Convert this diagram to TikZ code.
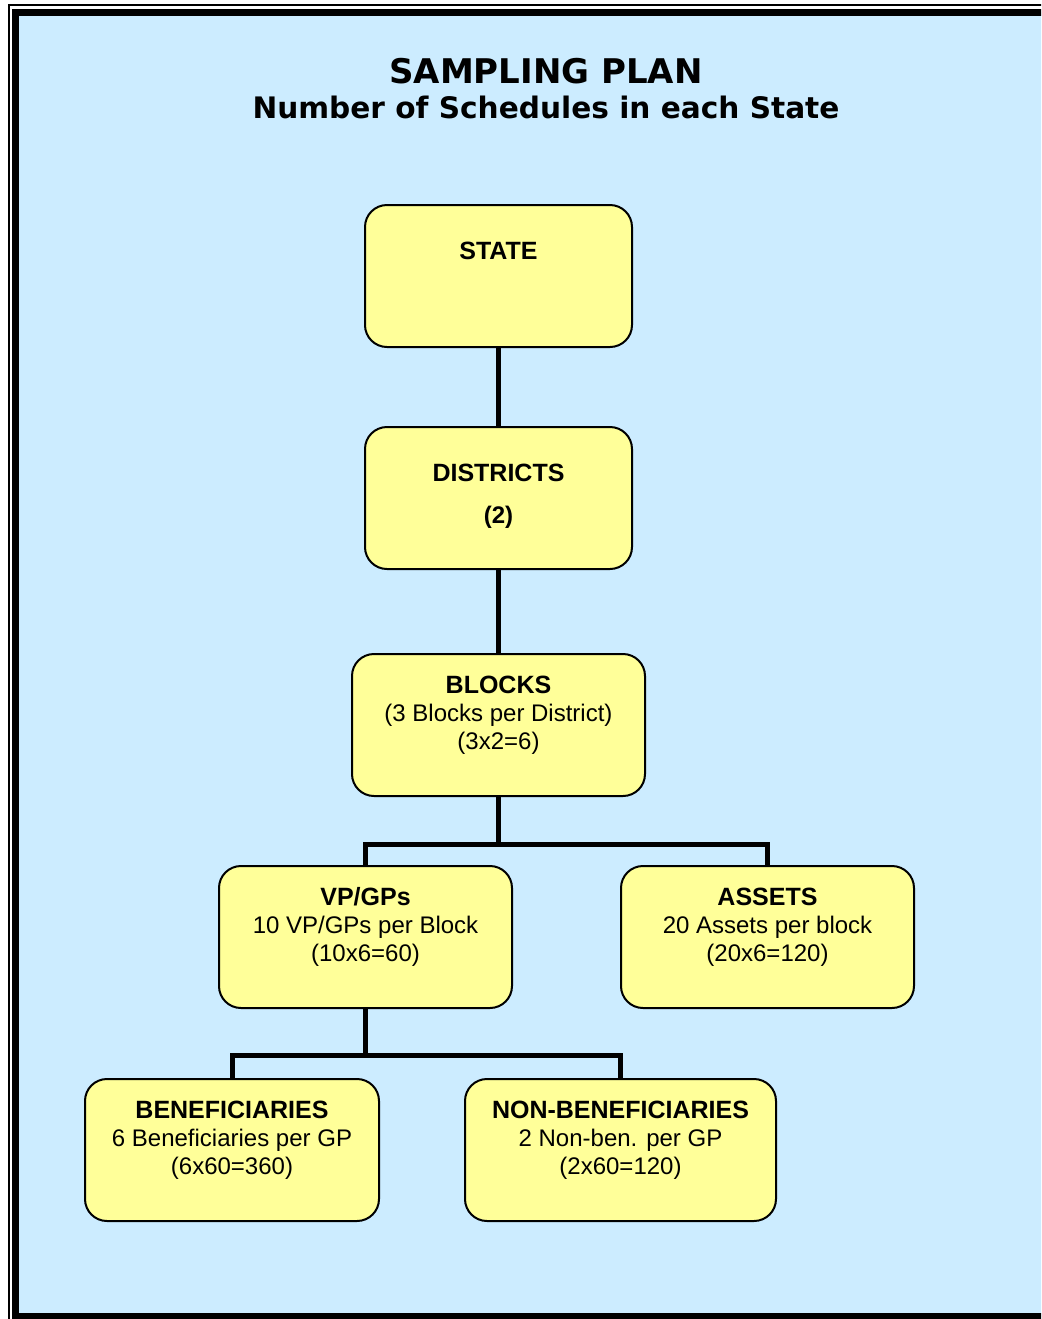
\documentclass[tikz,border=0pt]{standalone}
\usepackage{fontspec}
\setmainfont{Liberation Sans}
\newfontfamily\headfont{DejaVu Sans}
\usepackage{tikz}
\usetikzlibrary{positioning}
\definecolor{skyback}{RGB}{204,236,255}
\definecolor{boxyellow}{RGB}{255,255,153}
\newcommand{\boxlines}[2][10pt]{\vbox to 71pt{\vskip#1\hbox{\begin{tabular}[t]{@{}c@{}}#2\end{tabular}}\vss}}
\newcommand{\levelname}[1]{{\bfseries\fontsize{12.5}{14}\selectfont #1}}
\tikzset{
    level/.style={
           rectangle,
           rounded corners=11pt,
           draw=black,
           line width=1pt,
           fill=boxyellow,
           inner sep=0pt,
           minimum height=71pt,
           font=\fontsize{12}{14}\selectfont,
           },
    link/.style={draw=black,line width=2.5pt},
    titletext/.style={font=\headfont\bfseries\fontsize{17}{20}\selectfont,inner sep=0pt},
    subtitletext/.style={font=\headfont\bfseries\fontsize{14.8}{18}\selectfont,inner sep=0pt},
}
\begin{document}
\begin{tikzpicture}[x=0.5pt,y=0.5pt]
\useasboundingbox (0,0) rectangle (1041,-1319);
\clip (0,0) rectangle (1041,-1319);
\fill[white] (0,0) rectangle (1041,-1319);
\draw[line width=0.75pt] (9,-5) rectangle (1100,-1330);
\draw[line width=3.5pt,fill=skyback] (15.75,-12.25) rectangle (1080,-1316.5);
\node[titletext,anchor=base](title) at (546,-83){SAMPLING PLAN};
\node[subtitletext,anchor=base](subtitle) at (546,-118){Number of Schedules in each State};
\node[level,minimum width=133.5pt](state) at (498.5,-276){\boxlines[17.5pt]{\levelname{STATE}}};
\node[level,minimum width=133.5pt,below=39pt of state](districts){\boxlines[17.5pt]{\levelname{DISTRICTS}\\[7pt]\textbf{(2)}}};
\node[level,minimum width=146.5pt,below=41.5pt of districts](blocks){\boxlines{\levelname{BLOCKS}\\(3 Blocks per District)\\(3x2=6)}};
\node[level,minimum width=146.5pt,below=34pt of blocks,xshift=-66.5pt](vpgps){\boxlines{\levelname{VP/GPs}\\10 VP/GPs per Block\\(10x6=60)}};
\node[level,minimum width=146.5pt,right=53.5pt of vpgps](assets){\boxlines{\levelname{ASSETS}\\20 Assets per block\\(20x6=120)}};
\node[level,minimum width=147pt,below=34.5pt of vpgps,xshift=-66.75pt](benef){\boxlines{\levelname{BENEFICIARIES}\\6 Beneficiaries per GP\\(6x60=360)}};
\node[level,minimum width=155.5pt,right=42pt of benef](nonbenef){\boxlines{\levelname{NON-BENEFICIARIES}\\2 Non-ben. per GP\\(2x60=120)}};
\path (state) edge[link] (districts)
      (districts) edge[link] (blocks);
\draw[link] (blocks.south) -- ++(0,-47) -| (vpgps.north);
\draw[link] (blocks.south) -- ++(0,-47) -| (assets.north);
\draw[link] (vpgps.south) -- ++(0,-46) -| (benef.north);
\draw[link] (vpgps.south) -- ++(0,-46) -| (nonbenef.north);
\end{tikzpicture}
\end{document}
